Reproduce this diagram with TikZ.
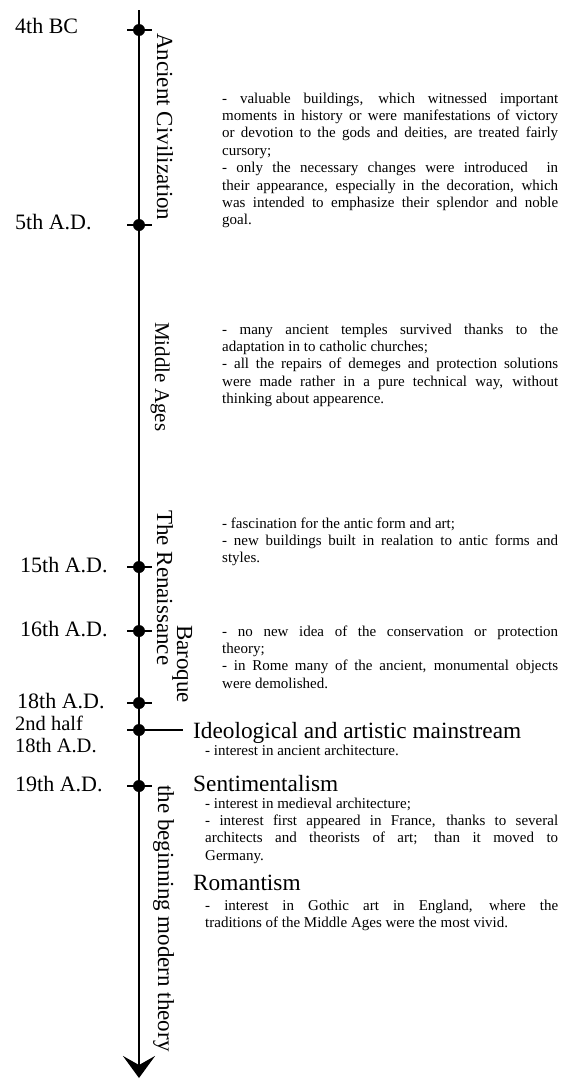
\documentclass[tikz,border=0pt]{standalone}
\usepackage{fontspec}
\setmainfont{Liberation Serif}
\usetikzlibrary{arrows.meta}
\begin{document}
\begin{tikzpicture}[x=1pt,y=-1pt,
  axisline/.style={line width=2.6pt},
  tickline/.style={line width=1.3pt},
  dotnode/.style={circle,fill=black,inner sep=0pt,minimum size=12pt},
  datelabel/.style={anchor=base west,inner sep=0pt,font=\fontsize{22}{22}\selectfont},
  pairlabel/.style={anchor=base west,inner sep=0pt,font=\fontsize{20.5}{20.5}\selectfont},
  periodlabel/.style={rotate=-90,anchor=base west,inner sep=0pt,font=\fontsize{23}{23}\selectfont},
  headlabel/.style={anchor=base west,inner sep=0pt,font=\fontsize{23.3}{23}\selectfont},
  bodytext/.style={anchor=base west,inner sep=0pt}
]
\useasboundingbox (0,0) rectangle (568,1079);
\newcommand{\bodyblock}[2]{\parbox[t]{#1}{\fontsize{15}{17.4}\selectfont #2}}

% axis
\coordinate (top) at (139,10);
\coordinate (bottom) at (139,1078);
\draw[axisline,-{Stealth[length=22pt,width=32pt,inset=9pt]}] (top) -- (bottom);

% dots and ticks
\foreach \n/\y in {a/30,b/225,c/567,d/631,e/703,f/730,g/786}{
  \coordinate (tl\n) at (127,\y);
  \coordinate (tr\n) at (152,\y);
  \draw[tickline] (tl\n) -- (tr\n);
  \node[dotnode] (d\n) at (139,\y) {};
}
\coordinate (hend) at (183,730);
\draw[tickline] (df) -- (hend);

% date labels
\node[datelabel] (l1) at (15,33) {4th BC};
\node[datelabel] (l2) at (15,229) {5th A.D.};
\node[datelabel] (l3) at (20,572) {15th A.D.};
\node[datelabel] (l4) at (20,636) {16th A.D.};
\node[datelabel] (l5) at (17,708) {18th A.D.};
\node[pairlabel] (l6) at (15,730) {2nd half};
\node[pairlabel] (l7) at (15,752) {18th A.D.};
\node[datelabel] (l8) at (15,791) {19th A.D.};

% period labels
\node[periodlabel] (p1) at (157,33) {Ancient Civilization};
\node[periodlabel,font=\fontsize{21}{21}\selectfont] (p2) at (155,322) {Middle Ages};
\node[periodlabel] (p3) at (157,510) {The Renaissance};
\node[periodlabel] (p4) at (177,625) {Baroque};
\node[periodlabel] (p5) at (158,785) {the beginning modern theory};

% headings
\node[headlabel] (h1) at (193,738) {Ideological and artistic mainstream};
\node[headlabel] (h2) at (193,791) {Sentimentalism};
\node[headlabel] (h3) at (193,890) {Romantism};

% body texts
\node[bodytext] (t1) at (222,103) {\bodyblock{336pt}{- valuable buildings, which witnessed important\linebreak moments in history or were manifestations of victory\linebreak or devotion to the gods and deities, are treated fairly\linebreak cursory;\\
- only the necessary changes were introduced \ in\linebreak their appearance, especially in the decoration, which\linebreak was intended to emphasize their splendor and noble\linebreak goal.}};

\node[bodytext] (t2) at (222,334) {\bodyblock{336pt}{- many ancient temples survived thanks to the\linebreak adaptation in to catholic churches;\\
- all the repairs of demeges and protection solutions\linebreak were made rather in a pure technical way, without\linebreak thinking about appearence.}};

\node[bodytext] (t3) at (222,528) {\bodyblock{336pt}{- fascination for the antic form and art;\\
- new buildings built in realation to antic forms and\linebreak styles.}};

\node[bodytext] (t4) at (222,636) {\bodyblock{336pt}{- no new idea of the conservation or protection\linebreak theory;\\
- in Rome many of the ancient, monumental objects\linebreak were demolished.}};

\node[bodytext] (t5) at (205,755) {\bodyblock{353pt}{- interest in ancient architecture.}};

\node[bodytext] (t6) at (205,808) {\bodyblock{353pt}{- interest in medieval architecture;\\
- interest first appeared in France, thanks to several\linebreak architects and theorists of art; than it moved to\linebreak Germany.}};

\node[bodytext] (t7) at (205,910) {\bodyblock{353pt}{- interest in Gothic art in England, where the\linebreak traditions of the Middle Ages were the most vivid.}};
\end{tikzpicture}
\end{document}
